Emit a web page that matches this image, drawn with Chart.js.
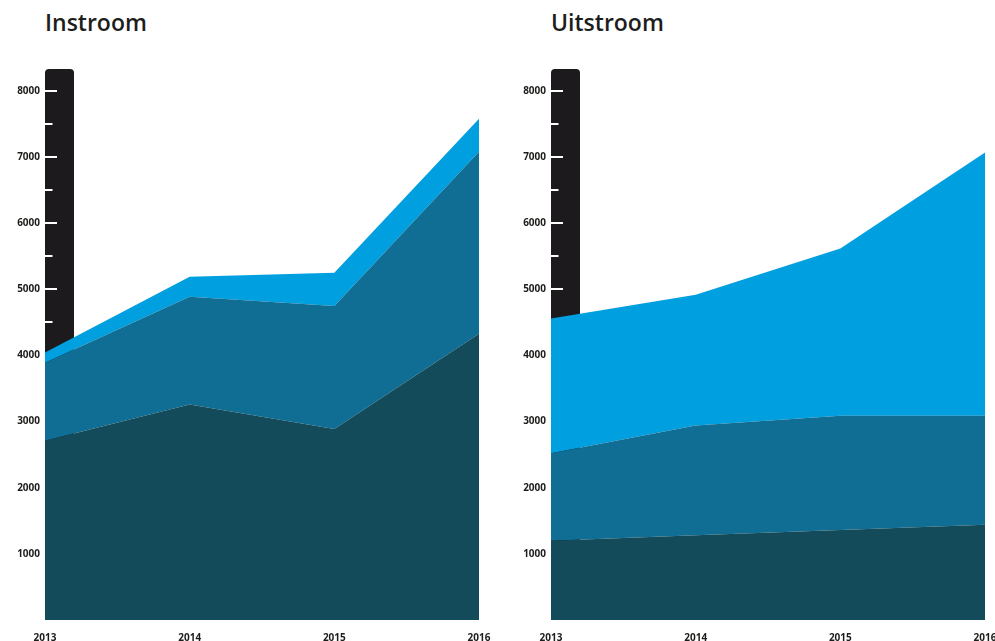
<!DOCTYPE html>
<html>
<head>
<meta charset="utf-8">
<script src="https://cdn.jsdelivr.net/npm/chart.js@4/dist/chart.umd.min.js"></script>
<style>
  html, body { margin: 0; padding: 0; background: #fff; }
  body { width: 995px; height: 641px; position: relative; overflow: hidden; }
  .title {
    position: absolute; top: 11px; margin: 0;
    font: 600 23px/23px "Open Sans", sans-serif; color: #1d1d1b;
  }
  canvas { position: absolute; top: 0; }
</style>
</head>
<body>
<h2 class="title" style="left:45px">Instroom</h2>
<h2 class="title" style="left:551px">Uitstroom</h2>
<canvas id="instroom" width="497" height="641" style="left:0;width:497px;height:641px"></canvas>
<canvas id="uitstroom" width="489" height="641" style="left:506px;width:489px;height:641px"></canvas>

<script>
// years on the x axis
const years = ['2013', '2014', '2015', '2016'];

// Instroom, stacked from bottom to top
const instroomDark   = [2710, 3260, 2890, 4330];
const instroomMiddle = [1180, 1630, 1860, 2750];
const instroomLight  = [155, 300, 500, 500];

// Uitstroom, stacked from bottom to top
const uitstroomDark   = [1200, 1280, 1360, 1440];
const uitstroomMiddle = [1320, 1660, 1730, 1650];
const uitstroomLight  = [2040, 1980, 2530, 3980];

// y ticks every 500, labels only on the thousands
const yTicks = [1000, 1500, 2000, 2500, 3000, 3500, 4000, 4500, 5000, 5500, 6000, 6500, 7000, 7500, 8000];

const DARK = '#134b5a';
const MIDDLE = '#106d93';
const LIGHT = '#009fe0';
const BAR = '#1c1a1d';
const TEXT = '#1d1d1b';

// black "thermometer" bar with white tick marks, drawn under the areas
const thermometer = {
  id: 'thermometer',
  beforeDatasetsDraw(chart) {
    const { ctx, chartArea } = chart;
    const y = chart.scales.y;
    const x0 = chartArea.left, w = 29, top = chartArea.top - 22, r = 4;
    ctx.save();
    ctx.fillStyle = BAR;
    ctx.beginPath();
    ctx.moveTo(x0, chartArea.bottom);
    ctx.lineTo(x0, top + r);
    ctx.quadraticCurveTo(x0, top, x0 + r, top);
    ctx.lineTo(x0 + w - r, top);
    ctx.quadraticCurveTo(x0 + w, top, x0 + w, top + r);
    ctx.lineTo(x0 + w, chartArea.bottom);
    ctx.closePath();
    ctx.fill();
    ctx.strokeStyle = '#fff';
    ctx.lineWidth = 2;
    yTicks.forEach(v => {
      const py = Math.round(y.getPixelForValue(v));
      const len = v % 1000 === 0 ? 12 : 7.5;
      ctx.beginPath();
      ctx.moveTo(x0, py);
      ctx.lineTo(x0 + len, py);
      ctx.stroke();
    });
    ctx.restore();
  }
};

function makeChart(id, dark, middle, light, padRight) {
  const area = (data, color, fill) => ({
    data: data,
    backgroundColor: color,
    borderWidth: 0,
    pointRadius: 0,
    pointHoverRadius: 0,
    tension: 0,
    fill: fill
  });

  return new Chart(document.getElementById(id), {
    type: 'line',
    data: {
      labels: years,
      datasets: [
        area(dark, DARK, 'origin'),
        area(middle, MIDDLE, '-1'),
        area(light, LIGHT, '-1')
      ]
    },
    options: {
      responsive: false,
      animation: false,
      events: [],
      layout: { autoPadding: false, padding: { top: 91, right: padRight, left: 0, bottom: 0 } },
      plugins: { legend: { display: false }, tooltip: { enabled: false } },
      scales: {
        x: {
          offset: false,
          grid: { display: false, drawTicks: false },
          border: { display: false },
          ticks: {
            padding: 12,
            maxRotation: 0,
            color: TEXT,
            font: { family: 'Open Sans', weight: 'bold', size: 10 }
          },
          afterFit(scale) {
            scale.height = 21;
            // let the first and last year labels hang over the plot edges
            scale.paddingLeft = 0;
            scale.paddingRight = 0;
          }
        },
        y: {
          stacked: true,
          min: 0,
          max: 8000,
          grid: { display: false, drawTicks: false },
          border: { display: false },
          afterBuildTicks(scale) { scale.ticks = yTicks.map(v => ({ value: v })); },
          ticks: {
            padding: 5,
            color: TEXT,
            font: { family: 'Open Sans', weight: 'bold', size: 10 },
            callback: v => (v % 1000 === 0 ? String(v) : '')
          },
          afterFit(scale) { scale.width = 45; }
        }
      }
    },
    plugins: [thermometer]
  });
}

makeChart('instroom', instroomDark, instroomMiddle, instroomLight, 18);
makeChart('uitstroom', uitstroomDark, uitstroomMiddle, uitstroomLight, 10);
</script>
</body>
</html>
